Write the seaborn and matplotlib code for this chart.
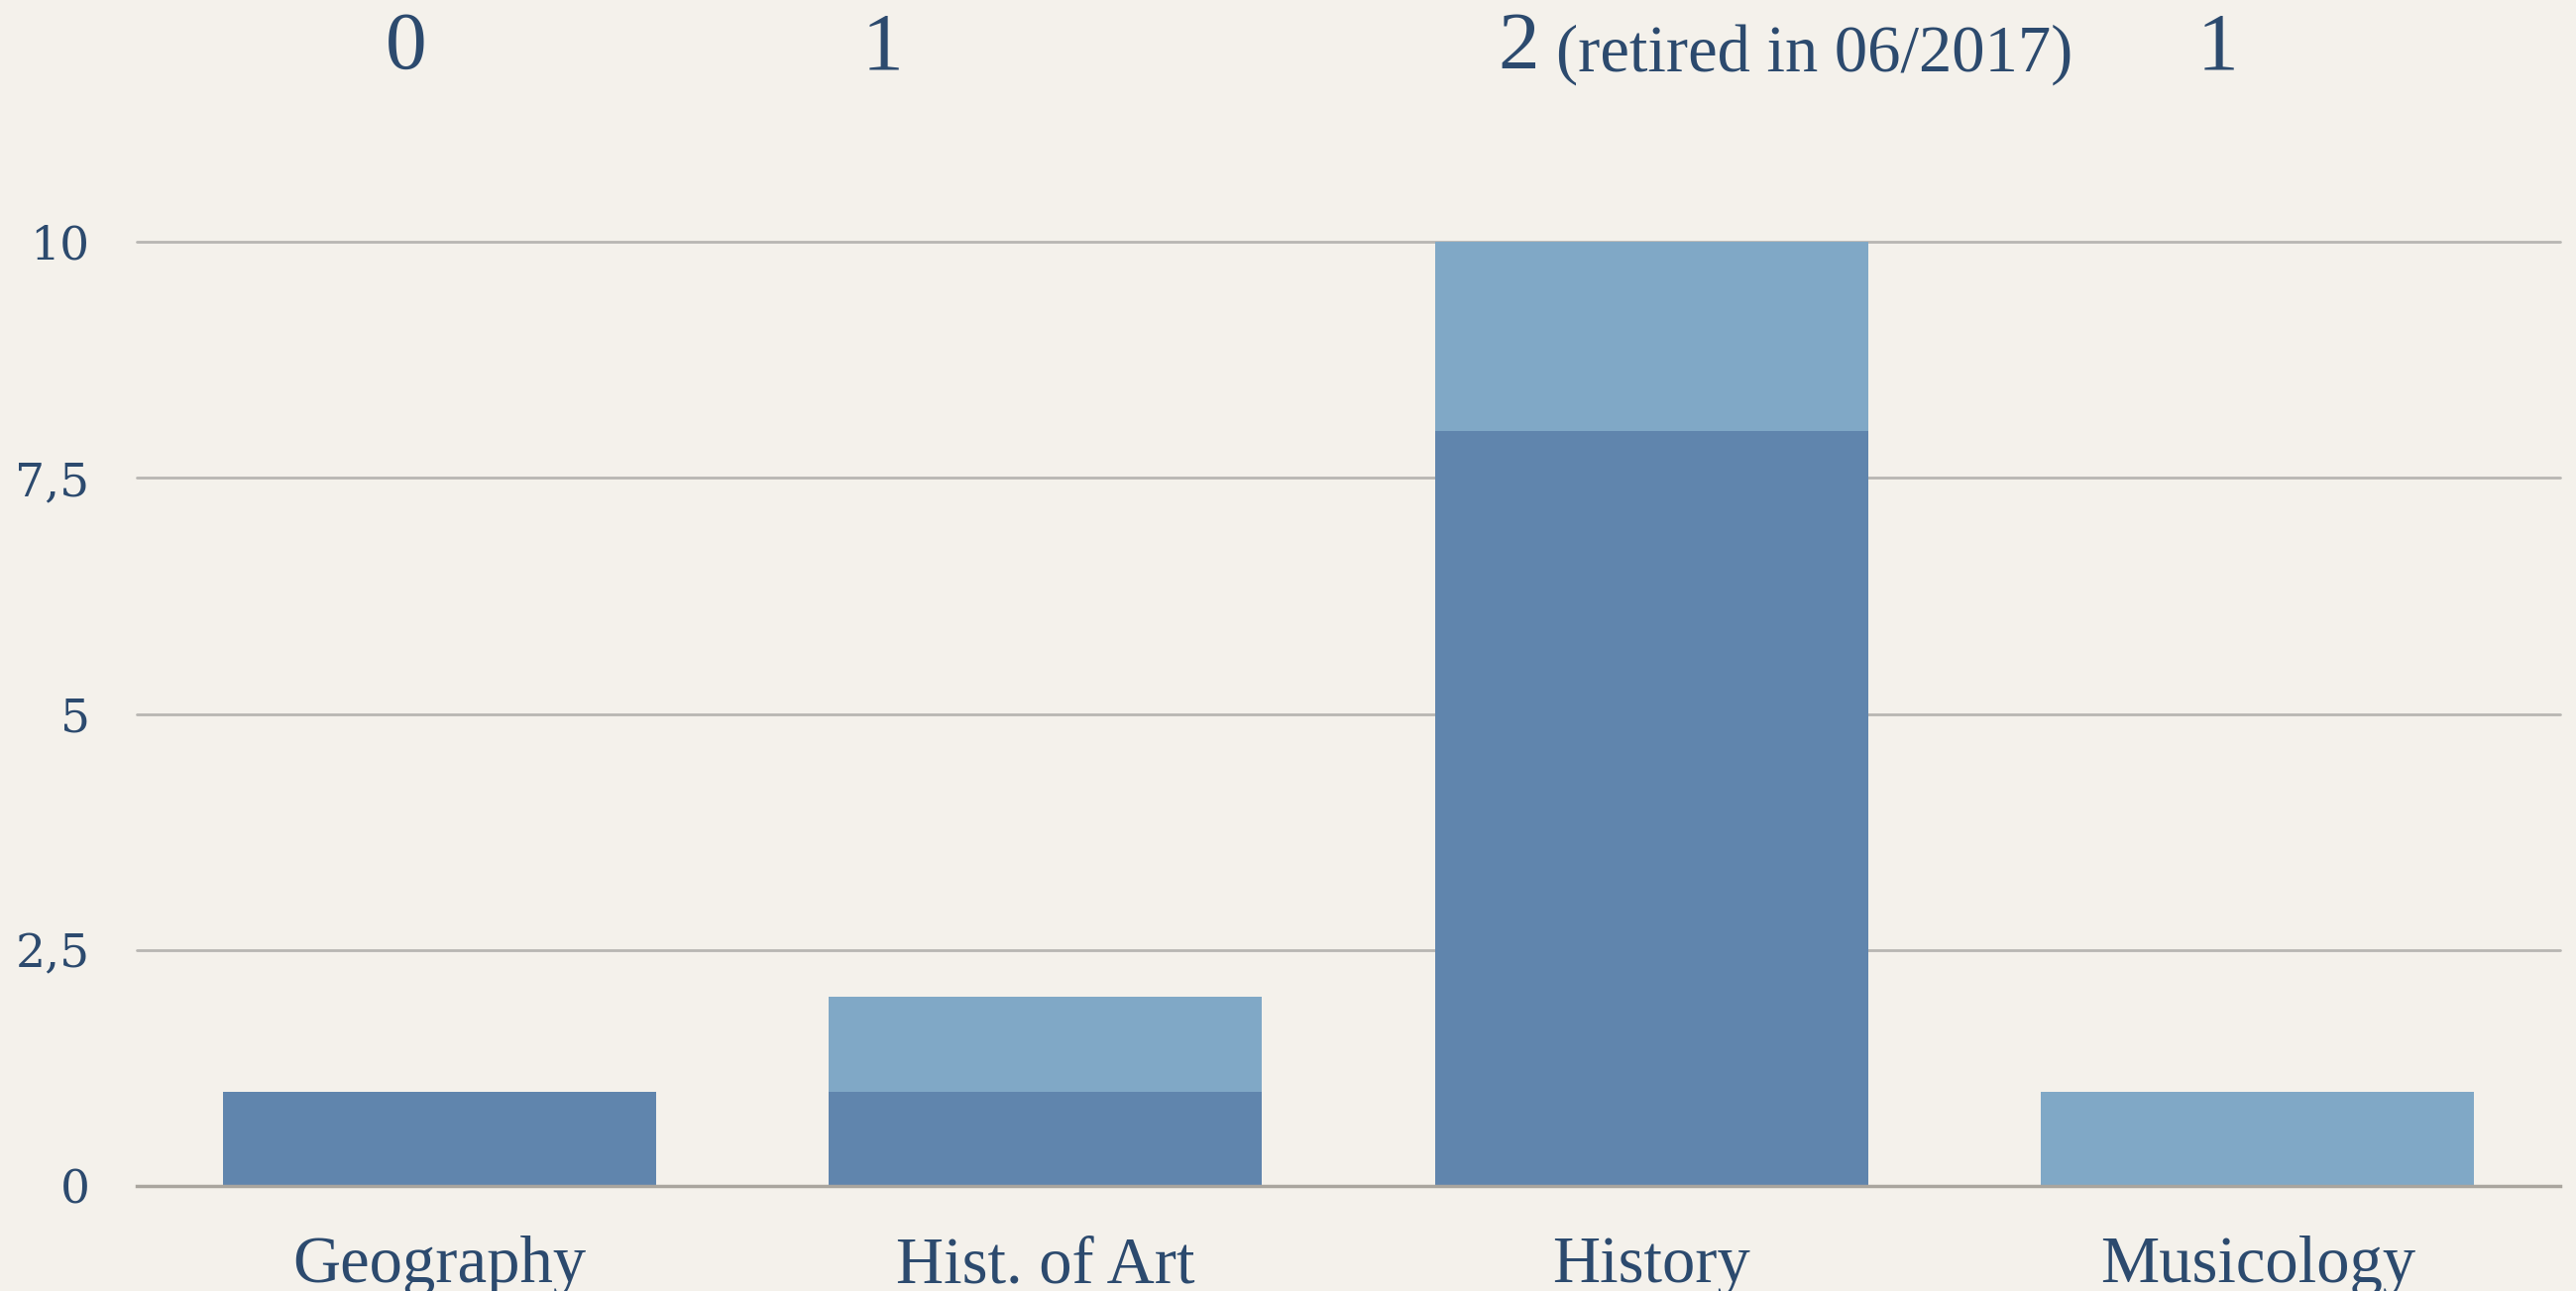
import matplotlib
matplotlib.use("Agg")
import matplotlib.pyplot as plt
import seaborn as sns
import pandas as pd

# ---- data ----
categories = ["Geography", "Hist. of Art", "History", "Musicology"]
dark_values = [1, 1, 8, 0]      # lower (darker) segment
light_values = [0, 1, 2, 1]     # upper (lighter) segment
top_counts = ["0", "1", "2", "1"]
top_notes = ["", "", "(retired in 06/2017)", ""]
ytick_values = [0, 2.5, 5, 7.5, 10]
ytick_labels = ["0", "2,5", "5", "7,5", "10"]

totals = [d + l for d, l in zip(dark_values, light_values)]
df = pd.DataFrame({"category": categories, "dark": dark_values, "total": totals})

BG = "#F4F1EB"
DARK = "#6085AD"
LIGHT = "#80A8C6"
TEXT = "#2C4A6E"

sns.set_theme(style="white")
plt.rcParams["font.family"] = ["Liberation Serif", "DejaVu Serif"]

fig = plt.figure(figsize=(25.99, 13.03), dpi=100, facecolor=BG)
ax = fig.add_axes([0.053, 0.0813, 0.941, 0.7314])
ax.set_facecolor(BG)

sns.barplot(data=df, x="category", y="total", color=LIGHT, saturation=1,
            width=0.715, ax=ax, zorder=3, linewidth=0, edgecolor="none")
sns.barplot(data=df, x="category", y="dark", color=DARK, saturation=1,
            width=0.715, ax=ax, zorder=4, linewidth=0, edgecolor="none")

ax.set_xlim(-0.5, 3.5)
ax.set_ylim(0, 10)
ax.set_yticks(ytick_values)
ax.set_yticklabels(ytick_labels, family=["DejaVu Serif"], fontsize=34, color=TEXT)
ax.tick_params(axis="y", length=0, pad=34)
ax.tick_params(axis="x", length=0, pad=36, labelsize=48, labelcolor=TEXT)
ax.set_xlabel("")
ax.set_ylabel("")
ax.grid(axis="y", color="#B8B6B2", linewidth=2, zorder=0)
ax.grid(axis="x", visible=False)
for s in ["top", "right", "left"]:
    ax.spines[s].set_visible(False)
ax.spines["bottom"].set_color("#A9A59E")
ax.spines["bottom"].set_linewidth(2.5)
ax.spines["bottom"].set_zorder(5)
for gl in ax.get_ygridlines():
    gl.set_clip_on(False)

# top counts above each category
top_x = [0.1575, 0.3425, 0.5895, 0.861]
for x, c, note in zip(top_x, top_counts, top_notes):
    fig.text(x, 0.962, c, ha="center", va="center", fontsize=60, color=TEXT)
    if note:
        fig.text(x + 0.0145, 0.958, note, ha="left", va="center", fontsize=48, color=TEXT)

fig.savefig("out.png", dpi=100, facecolor=BG)
